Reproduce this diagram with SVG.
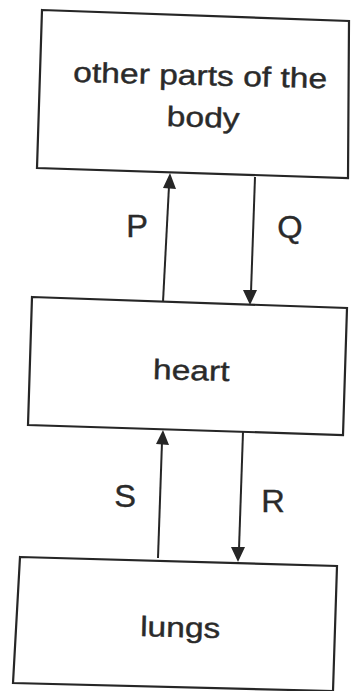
<svg xmlns="http://www.w3.org/2000/svg" width="352" height="691" viewBox="0 0 352 691">
<style>
.box{fill:#ffffff;stroke:#262626;stroke-width:2.2;stroke-linejoin:miter}
.lbl{font-family:"Liberation Sans",Arial,sans-serif;font-size:28px;fill:#2a2a2a;stroke:#2a2a2a;stroke-width:0.4;text-anchor:middle}
.big{font-size:31px}
.ln{stroke:#262626;stroke-width:2;fill:none}
.ah{fill:#262626}
</style>
<rect width="352" height="691" fill="#ffffff"/>
<g id="node-body">
<polygon class="box" points="42,10 349,21 348,178 37,168"/>
<text class="lbl" transform="translate(200,85) rotate(1.5) scale(1.2,1)" x="0" y="0">other parts of the</text>
<text class="lbl" transform="translate(203,127) rotate(1.5) scale(1.2,1)" x="0" y="0">body</text>
</g>
<g id="node-heart">
<polygon class="box" points="32,297 347,308 343,435 28,425"/>
<text class="lbl" transform="translate(191,380) rotate(1.5) scale(1.2,1)" x="0" y="0">heart</text>
</g>
<g id="node-lungs">
<polygon class="box" points="20,557 337,566 333,691 13,683"/>
<text class="lbl" transform="translate(180,637) rotate(1.5) scale(1.2,1)" x="0" y="0">lungs</text>
</g>
<g id="connectors">
<line class="ln" x1="163" y1="302" x2="169" y2="186"/>
<polygon class="ah" points="170,173 176,189 163,188"/>
<line class="ln" x1="255" y1="177" x2="251" y2="292"/>
<polygon class="ah" points="250,305 243,290 257,290"/>
<line class="ln" x1="158" y1="558" x2="162" y2="442"/>
<polygon class="ah" points="163,430 169,445 156,444"/>
<line class="ln" x1="243" y1="432" x2="239" y2="549"/>
<polygon class="ah" points="238,562 231,547 245,547"/>
<text class="lbl big" transform="translate(137,237) scale(1.05,1)" x="0" y="0">P</text>
<text class="lbl big" transform="translate(290,238) scale(1.05,1)" x="0" y="0">Q</text>
<text class="lbl big" transform="translate(125,507) scale(1.05,1)" x="0" y="0">S</text>
<text class="lbl big" transform="translate(273,512) scale(1.05,1)" x="0" y="0">R</text>
</g>
</svg>
